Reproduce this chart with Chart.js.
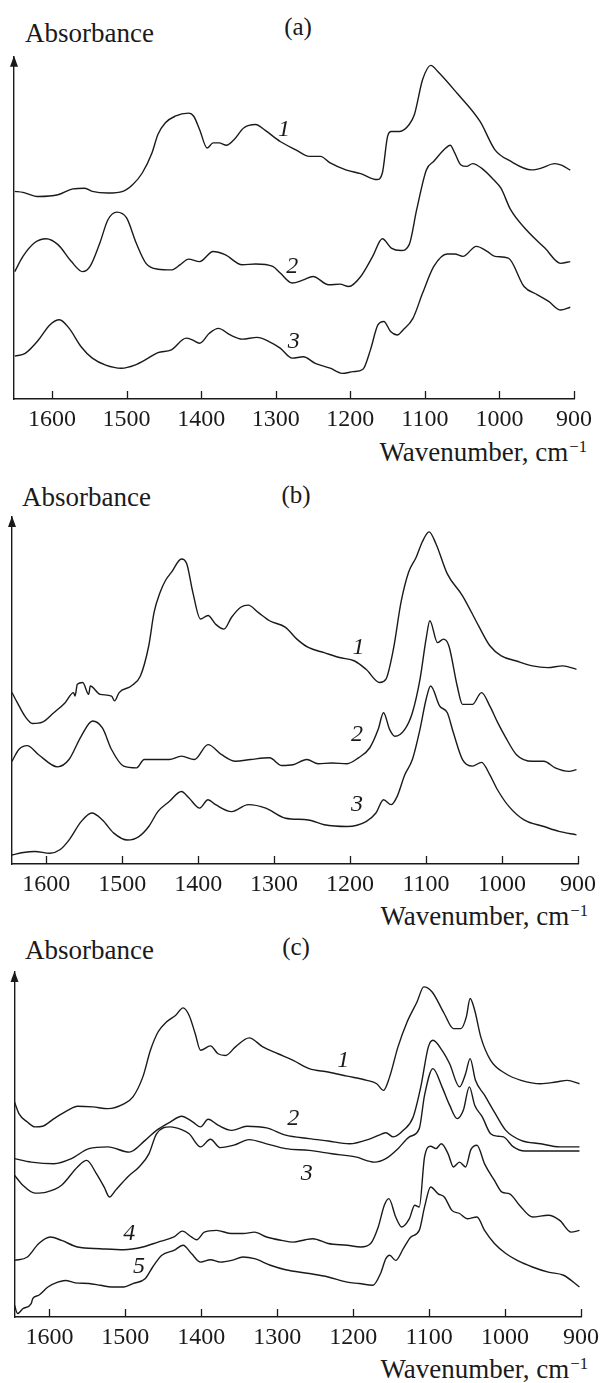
<!DOCTYPE html>
<html>
<head>
<meta charset="utf-8">
<title>IR spectra (a)-(c)</title>
<script src="https://cdn.jsdelivr.net/npm/chart.js@4.4.1/dist/chart.umd.min.js"></script>
<style>
    html, body { margin: 0; padding: 0; background: #fff; }
    #page {
        position: relative; width: 603px; height: 1383px; overflow: hidden;
        font-family: "Liberation Serif", "Times New Roman", serif; color: #1a1a1a;
    }
    #page canvas { position: absolute; left: 0; }
    .txt { position: absolute; font-size: 27px; line-height: 26px; white-space: nowrap; }
    .panel-tag { position: absolute; width: 60px; text-align: center; font-size: 25px; line-height: 26px; }
    .sup { position: relative; top: -0.55em; font-size: 0.62em; margin-left: 1px; }
</style>
</head>
<body>
<div id="page">
    <div class="txt" style="left:25px; top:20px;">Absorbance</div>
    <div class="panel-tag" style="left:268px; top:14px;">(a)</div>
    <div class="txt" style="right:16px; top:439px;">Wavenumber, cm<span class="sup">&minus;1</span></div>

    <div class="txt" style="left:22px; top:484px;">Absorbance</div>
    <div class="panel-tag" style="left:266px; top:482px;">(b)</div>
    <div class="txt" style="right:15px; top:903px;">Wavenumber, cm<span class="sup">&minus;1</span></div>

    <div class="txt" style="left:25px; top:937px;">Absorbance</div>
    <div class="panel-tag" style="left:266px; top:934px;">(c)</div>
    <div class="txt" style="right:15px; top:1356px;">Wavenumber, cm<span class="sup">&minus;1</span></div>

    <canvas id="chart-a" width="603" height="440" style="top:0px"></canvas>
    <canvas id="chart-b" width="603" height="460" style="top:440px"></canvas>
    <canvas id="chart-c" width="603" height="483" style="top:900px"></canvas>
</div>

<script>
// ============================================================
// DATA  (wavenumber cm-1, absorbance in arbitrary units)
// ============================================================
const WAVENUMBER_TICKS = [900, 1000, 1100, 1200, 1300, 1400, 1500, 1600];

// ---- panel (a) ----
const a1 = [[1650,60.0],[1639,59.7],[1618,58.5],[1592,59.0],[1572,60.7],[1556,60.9],[1546,60.0],[1525,59.5],[1505,60.0],[1492,61.9],[1479,65.3],[1466,71.1],[1458,76.4],[1448,79.8],[1435,81.7],[1417,82.6],[1410,81.7],[1402,77.8],[1392,72.5],[1384,74.0],[1376,74.0],[1366,73.3],[1356,74.9],[1343,78.3],[1327,79.3],[1314,77.6],[1294,74.4],[1273,72.0],[1255,70.1],[1240,70.1],[1227,68.2],[1206,66.2],[1186,65.1],[1164,63.4],[1157,65.3],[1150,75.9],[1145,77.3],[1134,77.3],[1121,79.3],[1114,82.2],[1103,92.3],[1092,96.4],[1083,94.7],[1057,88.4],[1026,80.2],[1006,72.0],[985,68.7],[957,66.2],[944,66.7],[926,68.0],[916,67.5],[905,66.1]];
const a2 = [[1650,36.8],[1639,41.2],[1623,45.2],[1608,46.3],[1592,44.6],[1574,39.7],[1559,36.8],[1549,38.3],[1536,45.0],[1525,51.8],[1513,54.0],[1500,52.3],[1487,45.0],[1474,39.2],[1458,37.5],[1440,37.3],[1428,38.8],[1417,40.4],[1402,39.7],[1384,42.6],[1368,41.7],[1345,38.8],[1327,39.0],[1304,38.3],[1294,36.4],[1278,33.5],[1263,34.4],[1250,35.4],[1229,33.0],[1214,33.2],[1202,32.5],[1186,35.4],[1170,41.2],[1157,46.3],[1145,43.6],[1132,42.9],[1121,44.6],[1111,54.7],[1098,66.2],[1088,68.7],[1072,72.5],[1066,73.3],[1060,71.1],[1052,67.7],[1044,67.2],[1036,68.0],[1024,66.7],[1008,63.4],[998,60.9],[985,54.7],[964,48.9],[939,43.6],[918,39.2],[905,39.7]];
const a3 = [[1650,12.4],[1636,13.2],[1618,17.1],[1603,21.4],[1590,22.9],[1577,20.4],[1561,15.1],[1546,11.8],[1528,9.8],[1507,8.9],[1489,9.8],[1471,11.8],[1458,13.4],[1440,14.2],[1420,17.6],[1412,17.1],[1402,16.1],[1389,19.0],[1377,20.4],[1361,18.5],[1345,17.3],[1325,17.8],[1309,16.6],[1294,14.7],[1278,11.8],[1263,12.2],[1247,10.3],[1227,8.9],[1211,7.4],[1196,7.9],[1183,8.6],[1173,14.2],[1163,21.4],[1155,22.4],[1146,19.5],[1137,18.5],[1129,20.0],[1116,23.3],[1103,30.6],[1088,38.3],[1070,41.9],[1060,41.9],[1049,41.2],[1031,44.1],[1016,42.6],[1006,41.2],[988,40.7],[967,32.5],[949,30.1],[934,28.2],[918,25.7],[905,26.5]];
const labelsA = [['1', 1289, 77.8], ['2', 1278, 38.3], ['3', 1276, 16.6]];

// ---- panel (b) ----
const b1 = [[1645,49.4],[1638,46.5],[1628,42.6],[1618,40.5],[1605,40.9],[1590,43.6],[1575,46.5],[1564,49.4],[1562,48.4],[1559,51.8],[1552,52.3],[1544,48.9],[1542,51.3],[1529,48.9],[1514,48.4],[1510,47.0],[1504,49.4],[1488,51.3],[1476,54.2],[1465,62.9],[1458,72.5],[1450,78.3],[1443,81.7],[1435,84.1],[1422,87.9],[1415,86.5],[1407,78.3],[1397,70.6],[1387,71.6],[1377,69.1],[1366,67.7],[1356,71.1],[1344,74.0],[1334,74.6],[1321,72.5],[1306,70.1],[1285,68.2],[1270,64.8],[1255,62.4],[1234,60.9],[1214,59.5],[1194,58.5],[1179,56.1],[1161,52.3],[1153,53.2],[1143,61.9],[1133,75.4],[1123,84.1],[1113,88.4],[1105,92.8],[1096,95.7],[1087,92.3],[1072,83.6],[1052,77.3],[1031,68.7],[1016,62.9],[1001,60.0],[981,58.5],[960,57.1],[940,56.6],[920,57.1],[902,56.1]];
const b2 = [[1645,29.6],[1636,33.0],[1625,34.1],[1610,31.5],[1585,28.0],[1570,30.1],[1554,36.8],[1539,41.2],[1526,39.2],[1514,33.0],[1498,28.2],[1481,27.7],[1471,30.1],[1458,30.1],[1438,30.1],[1422,31.1],[1405,30.1],[1387,34.4],[1369,31.5],[1351,29.6],[1331,30.1],[1306,30.6],[1290,28.4],[1275,28.6],[1257,30.1],[1242,28.9],[1224,29.1],[1204,28.9],[1189,30.6],[1174,33.5],[1163,38.8],[1156,43.6],[1148,38.8],[1141,36.8],[1128,38.8],[1118,43.6],[1108,53.2],[1100,64.8],[1095,70.1],[1085,63.8],[1077,64.8],[1070,62.9],[1059,51.3],[1052,46.0],[1039,46.0],[1027,49.4],[1016,45.5],[1006,40.9],[996,36.8],[981,31.5],[960,29.6],[945,29.6],[930,27.7],[912,26.7],[902,27.2]];
const b3 = [[1645,2.6],[1630,3.3],[1615,3.6],[1595,3.1],[1582,4.1],[1570,6.9],[1554,12.2],[1540,14.7],[1526,12.7],[1511,8.9],[1493,6.9],[1478,7.9],[1465,10.8],[1453,15.1],[1438,18.0],[1422,20.9],[1412,19.0],[1398,16.1],[1387,18.5],[1377,17.1],[1356,15.1],[1334,17.1],[1311,16.1],[1285,13.2],[1255,12.7],[1234,11.3],[1204,10.8],[1179,12.2],[1166,14.7],[1156,18.5],[1146,17.1],[1138,19.5],[1128,25.7],[1118,30.1],[1108,38.8],[1100,47.4],[1094,51.3],[1082,45.5],[1072,43.6],[1064,37.8],[1052,30.1],[1039,28.2],[1027,29.3],[1016,25.7],[1006,21.4],[991,16.6],[971,12.7],[945,10.8],[925,9.4],[902,8.4]];
const labelsB = [['1', 1189, 62.4], ['2', 1191, 37.3], ['3', 1191, 17.1]];

// ---- panel (c) ----
const c1 = [[1646,62.3],[1640,58.9],[1629,56.5],[1619,55.1],[1609,55.3],[1594,57.5],[1576,59.9],[1563,61.1],[1543,60.9],[1523,60.4],[1502,61.8],[1490,63.8],[1477,69.6],[1467,77.3],[1457,82.6],[1446,85.5],[1434,87.4],[1424,89.6],[1416,87.4],[1408,82.1],[1401,77.3],[1388,78.6],[1378,76.3],[1368,75.8],[1355,78.3],[1337,80.9],[1319,78.3],[1299,76.3],[1279,74.4],[1258,72.0],[1233,71.0],[1208,69.8],[1182,68.6],[1169,67.6],[1160,65.7],[1152,69.6],[1141,78.3],[1129,85.5],[1116,91.3],[1107,95.7],[1096,94.2],[1080,87.9],[1068,83.6],[1058,83.6],[1051,87.0],[1046,92.3],[1040,88.9],[1032,81.2],[1019,74.4],[999,70.5],[979,68.6],[953,67.6],[933,68.1],[918,68.6],[902,67.6]];
const c2 = [[1646,45.9],[1624,44.9],[1594,44.4],[1571,45.9],[1548,48.8],[1523,49.3],[1495,47.8],[1474,51.2],[1459,54.1],[1441,56.5],[1426,58.2],[1411,56.5],[1401,55.1],[1391,57.3],[1378,55.6],[1360,54.1],[1340,55.3],[1314,54.8],[1289,52.7],[1258,51.7],[1233,51.0],[1205,50.2],[1177,51.7],[1162,53.1],[1157,53.4],[1147,52.2],[1134,54.1],[1121,58.0],[1111,66.7],[1101,78.3],[1095,80.2],[1083,77.3],[1073,73.4],[1060,66.7],[1052,70.5],[1046,74.9],[1039,68.6],[1027,64.3],[1014,59.4],[999,54.1],[979,51.2],[953,50.2],[928,49.3],[902,49.3]];
const c3 = [[1646,41.1],[1635,38.2],[1619,35.9],[1604,36.2],[1584,38.2],[1563,43.5],[1551,45.4],[1538,41.5],[1528,37.7],[1521,34.8],[1513,36.7],[1497,40.6],[1482,43.5],[1469,47.3],[1459,53.1],[1441,55.1],[1426,54.3],[1416,53.1],[1401,49.3],[1388,51.5],[1375,49.1],[1357,49.8],[1337,51.4],[1314,50.2],[1289,48.8],[1258,48.3],[1228,47.3],[1197,46.4],[1172,44.9],[1157,45.9],[1141,48.8],[1126,52.2],[1113,54.6],[1106,64.3],[1095,72.0],[1083,66.7],[1073,61.4],[1063,57.5],[1055,59.9],[1047,66.7],[1040,61.4],[1030,58.0],[1019,53.1],[1009,52.4],[1002,52.2],[989,49.3],[974,48.1],[953,48.1],[928,48.1],[902,48.1]];
const c4 = [[1646,16.4],[1629,17.4],[1614,21.3],[1599,23.2],[1584,22.2],[1563,20.3],[1533,19.8],[1502,19.5],[1477,20.3],[1457,21.7],[1436,23.2],[1425,24.9],[1413,23.2],[1406,22.4],[1396,24.6],[1380,25.1],[1360,24.2],[1345,24.2],[1330,24.6],[1314,23.2],[1294,22.2],[1279,21.7],[1263,22.4],[1253,22.7],[1233,21.3],[1208,20.8],[1190,20.3],[1177,21.3],[1167,26.1],[1159,32.4],[1153,34.3],[1144,29.0],[1136,26.1],[1126,28.5],[1119,32.4],[1113,31.9],[1106,46.4],[1098,49.5],[1091,48.8],[1084,50.2],[1075,47.3],[1068,43.5],[1060,44.9],[1052,43.5],[1045,48.5],[1037,49.8],[1027,44.4],[1014,39.6],[1004,36.2],[994,35.7],[981,32.4],[964,29.0],[943,29.5],[928,28.0],[913,24.6],[902,25.1]];
const c5 = [[1646,3.4],[1642,1.0],[1635,2.4],[1624,3.9],[1622,5.3],[1614,6.3],[1602,8.7],[1589,10.1],[1579,10.6],[1566,9.9],[1548,9.7],[1533,9.2],[1518,8.7],[1502,8.7],[1490,9.7],[1474,11.1],[1464,14.5],[1452,17.9],[1436,19.3],[1424,20.8],[1413,18.4],[1401,15.9],[1388,16.6],[1375,15.9],[1360,16.4],[1345,17.4],[1330,16.9],[1309,15.0],[1289,13.7],[1258,12.6],[1233,11.6],[1208,10.1],[1192,9.7],[1174,9.2],[1164,12.6],[1157,16.9],[1152,17.9],[1144,16.4],[1134,19.8],[1124,23.2],[1113,25.1],[1106,31.9],[1098,37.7],[1088,35.7],[1080,34.8],[1070,30.9],[1060,30.0],[1050,28.5],[1037,29.0],[1027,25.1],[1014,21.3],[999,18.4],[984,16.4],[964,14.5],[943,13.0],[923,12.1],[902,8.7]];
const labelsC = [['1', 1213, 74.4], ['2', 1279, 57.5], ['3', 1261, 41.5], ['4', 1495, 24.2], ['5', 1482, 14.5]];

// ============================================================
// DIBUJO
// ============================================================
const INK = '#1a1a1a';

const panels = [
    { id: 'chart-a', height: 440, area: { left: 14,   right: 574, top: 56.7, bottom: 399 }, xMax: 1651, yMax: 98.9, curves: [a1, a2, a3],         labels: labelsA },
    { id: 'chart-b', height: 460, area: { left: 12,   right: 578, top: 77,   bottom: 424 }, xMax: 1645, yMax: 100,  curves: [b1, b2, b3],         labels: labelsB },
    { id: 'chart-c', height: 483, area: { left: 14.5, right: 581, top: 72,   bottom: 417 }, xMax: 1646, yMax: 100,  curves: [c1, c2, c3, c4, c5], labels: labelsC }
];

// ticks hacia dentro, flecha del eje Y y numeración de curvas
function makeDecor(curveLabels) {
    return {
        id: 'decor',
        afterDraw(chart) {
            const { ctx, chartArea: ca, scales: { x, y } } = chart;
            ctx.save();
            ctx.strokeStyle = INK;
            ctx.fillStyle = INK;
            ctx.lineWidth = 1.3;
            x.ticks.forEach(t => {
                const px = Math.round(x.getPixelForValue(t.value)) + 0.5;
                ctx.beginPath();
                ctx.moveTo(px, ca.bottom);
                ctx.lineTo(px, ca.bottom - 8);
                ctx.stroke();
            });
            ctx.beginPath();
            ctx.moveTo(ca.left, ca.top - 1);
            ctx.lineTo(ca.left - 4, ca.top + 10);
            ctx.lineTo(ca.left + 4, ca.top + 10);
            ctx.closePath();
            ctx.fill();

            ctx.font = 'italic 24px "Liberation Serif"';
            ctx.textAlign = 'center';
            ctx.textBaseline = 'middle';
            curveLabels.forEach(([txt, wn, v]) => {
                ctx.fillText(txt, x.getPixelForValue(wn), y.getPixelForValue(v));
            });
            ctx.restore();
        }
    };
}

panels.forEach(p => {
    const datasets = p.curves.map(c => ({
        data: c.map(([wn, v]) => ({ x: wn, y: v })),
        borderColor: INK,
        borderWidth: 1.4,
        pointRadius: 0,
        fill: false,
        cubicInterpolationMode: 'monotone'
    }));

    new Chart(document.getElementById(p.id), {
        type: 'line',
        data: { datasets },
        plugins: [makeDecor(p.labels)],
        options: {
            responsive: false,
            animation: false,
            devicePixelRatio: 1,
            layout: { padding: { top: p.area.top, right: 603 - p.area.right, left: 0, bottom: 0 } },
            plugins: { legend: { display: false }, tooltip: { enabled: false } },
            scales: {
                x: {
                    type: 'linear',
                    reverse: true,
                    min: 900,
                    max: p.xMax,
                    afterBuildTicks: s => { s.ticks = WAVENUMBER_TICKS.map(v => ({ value: v })); },
                    afterFit: s => { s.height = p.height - p.area.bottom; },
                    grid: { display: true, drawOnChartArea: false, drawTicks: false },
                    border: { display: true, color: INK, width: 1.4 },
                    ticks: {
                        color: INK,
                        padding: 9,
                        maxRotation: 0,
                        autoSkip: false,
                        font: { family: 'Liberation Serif', size: 24, lineHeight: 1 },
                        callback: v => String(v)
                    }
                },
                y: {
                    min: 0,
                    max: p.yMax,
                    afterFit: s => { s.width = p.area.left; },
                    grid: { display: true, drawOnChartArea: false, drawTicks: false },
                    border: { display: true, color: INK, width: 1.4 },
                    ticks: { display: false }
                }
            }
        }
    });
});
</script>
</body>
</html>
